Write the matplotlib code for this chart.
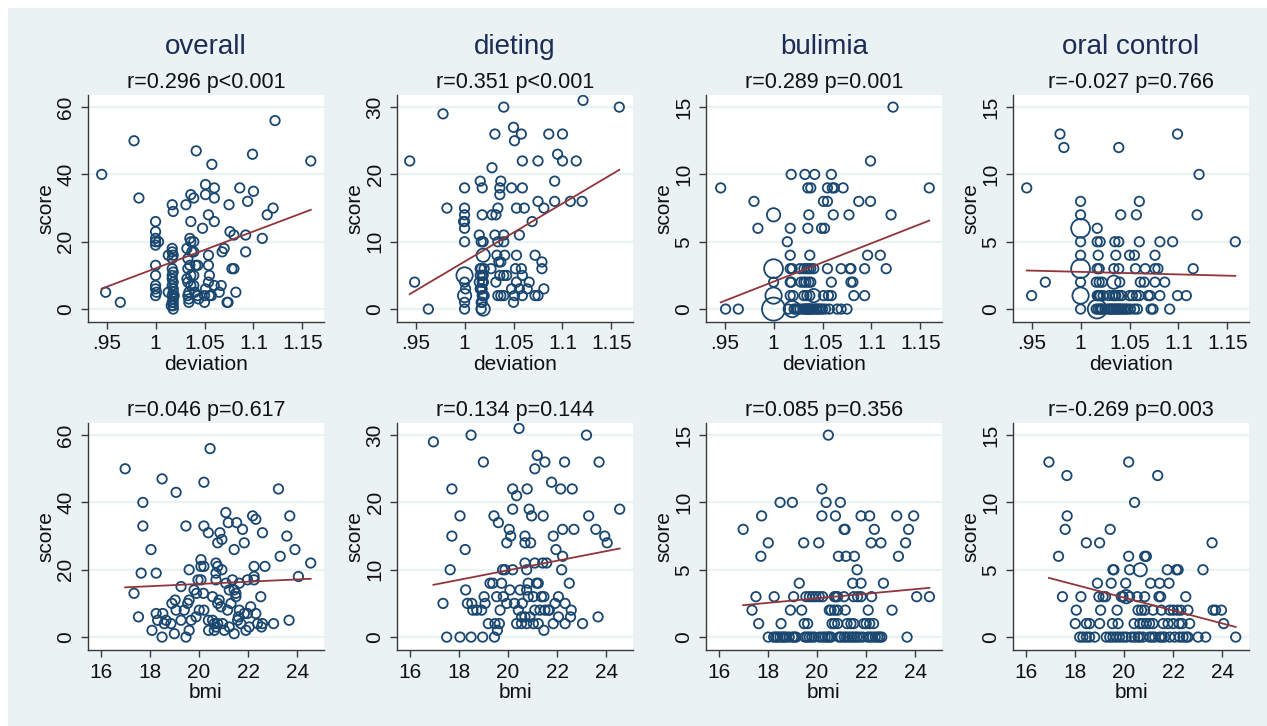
import matplotlib
matplotlib.use("Agg")
import numpy as np
import matplotlib.pyplot as plt
from matplotlib.patches import Rectangle

plt.rcParams['font.family'] = ['Liberation Sans', 'DejaVu Sans']

NAVY = '#1a476f'
MAROON = '#90353b'
BG = '#eaf2f3'

# ---------------- data: (x, y) points, weighted points as (x, y, w) ----------------
# overall score vs deviation
dev_overall = [
    (0.945, 40), (0.949, 5), (0.964, 2), (0.978, 50), (0.983, 33),
    (1.0, 26), (1.0, 23), (1.0, 21), (1.0, 20), (1.0, 19), (1.0, 13), (1.0, 10), (1.0, 7),
    (1.0, 6), (1.0, 4), (1.003, 20),
    (1.017, 31), (1.018, 29), (1.017, 18), (1.017, 17), (1.018, 16), (1.017, 15), (1.017, 12),
    (1.018, 11), (1.017, 10), (1.018, 8), (1.017, 7), (1.018, 6), (1.017, 4), (1.018, 3),
    (1.017, 2), (1.018, 1), (1.018, 0), (1.013, 16), (1.013, 5),
    (1.018, 2), (1.018, 5), (1.017, 9), (1.019, 4), (1.016, 1), (1.001, 5),
    (1.031, 31), (1.036, 34), (1.039, 33), (1.035, 21), (1.036, 20), (1.032, 18), (1.037, 17),
    (1.033, 15), (1.035, 13), (1.033, 12), (1.036, 10), (1.032, 9), (1.036, 7), (1.033, 4),
    (1.034, 3), (1.034, 2), (1.036, 26), (1.034, 5), (1.033, 8),
    (1.039, 20), (1.039, 17), (1.041, 13), (1.039, 10), (1.039, 7), (1.040, 5),
    (1.0415, 47), (1.043, 13), (1.043, 4), (1.044, 3), (1.048, 24),
    (1.051, 37), (1.051, 34), (1.051, 6), (1.050, 4), (1.050, 2),
    (1.054, 28), (1.054, 16), (1.054, 13), (1.055, 10), (1.054, 8), (1.055, 4),
    (1.0575, 43), (1.057, 4), (1.060, 36), (1.060, 33), (1.060, 26), (1.060, 7),
    (1.065, 5), (1.067, 7), (1.068, 17), (1.070, 18), (1.073, 2), (1.074, 2),
    (1.075, 31), (1.076, 23), (1.078, 12), (1.080, 12), (1.080, 22), (1.082, 5),
    (1.086, 36), (1.092, 22), (1.092, 17), (1.094, 32), (1.099, 46), (1.100, 35),
    (1.109, 21), (1.114, 28), (1.120, 30), (1.122, 56), (1.1585, 44),
]
dev_overall_big = []

# dieting score vs deviation
dev_dieting = [
    (0.944, 22), (0.949, 4), (0.963, 0), (0.978, 29), (0.982, 15),
    (1.0, 18), (1.0, 15), (1.0, 14), (0.999, 13), (1.0, 13), (1.0, 12), (1.0, 10), (1.0, 4), (1.0, 0),
    (1.0, 1), (1.001, 3),
    (1.016, 19), (1.018, 18), (1.018, 14), (1.015, 11), (1.017, 10), (1.019, 10), (1.017, 6),
    (1.016, 5), (1.015, 4), (1.019, 4), (1.018, 3), (1.018, 2), (1.017, 1),
    (1.017, 3), (1.019, 5), (1.018, 1), (1.016, 6), (1.020, 2), (1.019, 4),
    (1.017, 0), (1.018, 5), (1.016, 3), (1.019, 2), (1.020, 6), (1.018, 4),
    (1.028, 14), (1.028, 21), (1.027, 6),
    (1.031, 26), (1.032, 14), (1.034, 15), (1.031, 11), (1.034, 10), (1.033, 8), (1.035, 7),
    (1.037, 7), (1.032, 4), (1.036, 5), (1.034, 2), (1.037, 2), (1.036, 17), (1.036, 18), (1.037, 19),
    (1.040, 30), (1.040, 11), (1.040, 10), (1.041, 8), (1.040, 5), (1.040, 2), (1.043, 5),
    (1.048, 18), (1.048, 3), (1.050, 27), (1.051, 25), (1.050, 1), (1.051, 2), (1.052, 6),
    (1.053, 15), (1.053, 8), (1.053, 4), (1.056, 11), (1.056, 3), (1.058, 26), (1.058, 6),
    (1.059, 22), (1.059, 18), (1.059, 5), (1.059, 2), (1.061, 15), (1.066, 4), (1.064, 3),
    (1.069, 13), (1.072, 8), (1.072, 2), (1.075, 22), (1.075, 16), (1.075, 2),
    (1.079, 7), (1.079, 6), (1.081, 15), (1.081, 3), (1.086, 26), (1.092, 19), (1.092, 16),
    (1.095, 23), (1.100, 26), (1.100, 22), (1.108, 16), (1.114, 22), (1.120, 16),
    (1.121, 31), (1.158, 30),
]
dev_dieting_big = [(1.0, 5, 3), (1.0, 2, 2), (1.019, 8, 2), (1.019, 0, 2)]

# bulimia score vs deviation
dev_bulimia = [
    (0.946, 9), (0.951, 0), (0.964, 0), (0.980, 8), (0.984, 6), (1.0, 2),
    (1.018, 10), (1.017, 6), (1.014, 5), (1.017, 4), (1.017, 3), (1.019, 3), (1.017, 2),
    (1.017, 1), (1.015, 0), (1.020, 1), (1.018, 2),
    (1.032, 10), (1.035, 9), (1.038, 9), (1.036, 7), (1.035, 6), (1.037, 4),
    (1.027, 3), (1.031, 3), (1.034, 3), (1.036, 3), (1.038, 3), (1.041, 3),
    (1.028, 2), (1.031, 2), (1.033, 2), (1.036, 2), (1.038, 2), (1.034, 1), (1.031, 1), (1.037, 1),
    (1.025, 0), (1.030, 0), (1.033, 0), (1.036, 0), (1.039, 0), (1.043, 0), (1.046, 0), (1.050, 0),
    (1.021, 0), (1.023, 0), (1.027, 0), (1.032, 0), (1.035, 0), (1.038, 0), (1.041, 0),
    (1.044, 0), (1.048, 0), (1.053, 0), (1.057, 0), (1.034, 0), (1.037, 0),
    (1.042, 10), (1.049, 6), (1.052, 6), (1.051, 8), (1.055, 8), (1.055, 9), (1.059, 10),
    (1.060, 9), (1.062, 9), (1.061, 7), (1.055, 3), (1.059, 2), (1.051, 1), (1.056, 1),
    (1.059, 1), (1.065, 0), (1.069, 0), (1.075, 0), (1.071, 9), (1.069, 3), (1.077, 7),
    (1.078, 3), (1.079, 3), (1.079, 2), (1.081, 2), (1.082, 1), (1.087, 8), (1.093, 3),
    (1.093, 1), (1.096, 4), (1.099, 11), (1.099, 8), (1.109, 4), (1.115, 3), (1.120, 7),
    (1.122, 15), (1.159, 9),
]
dev_bulimia_big = [(1.0, 7, 2), (1.0, 3, 4), (1.0, 1, 3), (1.0, 0, 6), (1.019, 0, 3), (1.041, 1, 2)]

# oral control score vs deviation
dev_oral = [
    (0.945, 9), (0.950, 1), (0.964, 2), (0.979, 13), (0.983, 12),
    (1.0, 8), (1.0, 7), (1.0, 5), (1.0, 4), (1.0, 2), (1.0, 0),
    (1.017, 6), (1.017, 5), (1.020, 5), (1.018, 4), (1.017, 3), (1.019, 3), (1.016, 2),
    (1.019, 2), (1.022, 2), (1.017, 1), (1.020, 1), (1.023, 1), (1.022, 0), (1.025, 0),
    (1.018, 0), (1.020, 0), (1.019, 1), (1.021, 0), (1.016, 0), (1.018, 1),
    (1.039, 12), (1.041, 7), (1.035, 5), (1.039, 5), (1.036, 4), (1.034, 3), (1.039, 3),
    (1.040, 2), (1.029, 1), (1.033, 1), (1.036, 1), (1.039, 1), (1.042, 1),
    (1.028, 0), (1.031, 0), (1.034, 0), (1.037, 0), (1.040, 0), (1.044, 0), (1.048, 0),
    (1.030, 0), (1.033, 0), (1.036, 0), (1.039, 0), (1.042, 0), (1.046, 0), (1.035, 1),
    (1.050, 4), (1.055, 4), (1.056, 3), (1.057, 7), (1.060, 8), (1.060, 5), (1.061, 2),
    (1.065, 2), (1.050, 1), (1.053, 1), (1.057, 1), (1.060, 1), (1.051, 0), (1.055, 0),
    (1.058, 0), (1.066, 3), (1.069, 1), (1.071, 1), (1.072, 0), (1.074, 0), (1.076, 4),
    (1.076, 3), (1.079, 3), (1.076, 2), (1.081, 5), (1.081, 1), (1.086, 2), (1.091, 0),
    (1.094, 5), (1.099, 1), (1.099, 13), (1.108, 1), (1.115, 3), (1.119, 7), (1.121, 10),
    (1.158, 5),
]
dev_oral_big = [(1.0, 6, 4), (1.0, 3, 4), (1.0, 1, 3), (1.017, 0, 4), (1.034, 2, 2)]

# overall score vs bmi
bmi_overall = [
    (17.0, 50), (17.36, 13), (17.54, 6), (17.65, 19), (17.72, 40), (17.72, 33), (18.05, 26),
    (18.09, 2), (18.26, 19), (18.26, 7), (18.32, 5), (18.5, 47), (18.53, 7), (18.5, 0),
    (18.59, 4), (18.66, 5), (18.86, 4), (18.9, 10), (19.03, 11), (19.07, 8), (19.07, 43),
    (19.0, 1), (19.27, 15), (19.27, 5), (19.47, 33), (19.47, 0), (19.4, 8), (19.54, 10),
    (19.6, 11), (19.6, 20), (19.68, 5), (19.6, 2), (19.8, 14), (19.88, 6), (19.9, 13),
    (20.01, 8), (19.96, 17), (20.08, 23), (20.08, 21), (20.08, 17), (20.18, 13), (20.2, 21),
    (20.2, 8), (20.2, 46), (20.2, 33), (20.38, 31), (20.38, 5), (20.39, 2), (20.45, 56),
    (20.55, 12), (20.62, 2), (20.55, 5), (20.62, 4), (20.69, 22), (20.69, 19), (20.69, 17),
    (20.76, 28), (20.76, 21), (20.76, 10), (20.76, 4), (20.82, 11), (20.85, 31), (20.89, 9),
    (20.93, 20), (20.93, 29), (20.96, 4), (21.03, 2), (21.09, 37), (21.09, 16), (21.16, 8),
    (21.19, 34), (21.23, 3), (21.23, 14), (21.3, 10), (21.36, 17), (21.43, 14), (21.43, 26),
    (21.43, 1), (21.5, 13), (21.5, 12), (21.53, 34), (21.57, 5), (21.64, 16), (21.64, 8),
    (21.7, 4), (21.77, 32), (21.84, 28), (21.84, 7), (21.91, 2), (21.97, 7), (21.97, 17),
    (22.04, 3), (22.1, 9), (22.18, 36), (22.24, 17), (22.24, 18), (22.24, 21), (22.31, 35),
    (22.31, 7), (22.38, 4), (22.51, 12), (22.54, 3), (22.58, 4), (22.58, 31), (22.68, 21),
    (23.03, 4), (23.23, 44), (23.3, 24), (23.57, 30), (23.66, 5), (23.69, 36), (23.9, 26),
    (24.04, 18), (24.54, 22), (20.7, 3), (21.6, 6),
]
bmi_overall_big = []

# dieting score vs bmi
bmi_dieting = [
    (16.97, 29), (17.36, 5), (17.51, 0), (17.65, 10), (17.72, 15), (17.72, 22), (18.05, 18),
    (18.05, 0), (18.26, 13), (18.28, 7), (18.35, 5), (18.5, 30), (18.5, 0), (18.53, 5),
    (18.57, 4), (18.73, 4), (18.93, 4), (18.97, 0), (19.0, 26), (19.03, 6), (19.07, 5),
    (19.2, 2), (19.27, 8), (19.38, 8), (19.43, 18), (19.45, 0), (19.47, 2), (19.54, 6),
    (19.61, 17), (19.57, 1), (19.65, 2), (19.68, 4), (19.74, 8), (19.81, 6), (19.78, 10),
    (19.88, 10), (19.95, 14), (19.95, 5), (20.05, 16), (20.08, 7), (20.11, 15), (20.19, 19),
    (20.19, 10), (20.19, 22), (20.26, 5), (20.35, 21), (20.35, 2), (20.42, 4), (20.45, 31),
    (20.49, 7), (20.55, 3), (20.58, 5), (20.55, 2), (20.69, 11), (20.69, 15), (20.69, 14),
    (20.69, 3), (20.76, 2), (20.76, 10), (20.76, 7), (20.78, 22), (20.82, 8), (20.82, 6),
    (20.86, 19), (20.89, 3), (20.92, 14), (20.96, 18), (21.03, 6), (21.03, 2), (21.09, 11),
    (21.09, 4), (21.09, 25), (21.16, 8), (21.19, 27), (21.23, 8), (21.23, 2), (21.3, 4),
    (21.36, 6), (21.41, 11), (21.43, 18), (21.46, 6), (21.46, 1), (21.5, 26), (21.5, 4),
    (21.57, 11), (21.64, 4), (21.68, 4), (21.77, 23), (21.84, 2), (21.84, 15), (21.91, 5),
    (21.95, 13), (22.05, 6), (22.05, 3), (22.14, 22), (22.18, 10), (22.22, 16), (22.22, 12),
    (22.3, 26), (22.32, 5), (22.32, 2), (22.49, 8), (22.54, 3), (22.57, 4), (22.61, 22),
    (22.68, 16), (23.03, 2), (23.19, 30), (23.28, 18), (23.57, 16), (23.66, 3), (23.7, 26),
    (23.93, 15), (24.03, 14), (24.54, 19),
]
bmi_dieting_big = []

# bulimia score vs bmi
bmi_bulimia = [
    (17.0, 8), (17.36, 2), (17.52, 3), (17.63, 1), (17.72, 6), (17.75, 9), (18.02, 7),
    (18.02, 0), (18.26, 3), (18.24, 0), (18.4, 0), (18.6, 0), (18.74, 0), (18.87, 0),
    (19.01, 0), (19.15, 0), (18.5, 10), (18.54, 1), (18.92, 2), (19.0, 10), (19.05, 3),
    (19.28, 4), (19.38, 2), (19.46, 7), (19.48, 1), (19.55, 3), (19.62, 1),
    (19.51, 0), (19.69, 0), (19.89, 0), (19.69, 3), (19.82, 3), (19.96, 3), (20.09, 3),
    (20.23, 3), (20.07, 7), (20.2, 11), (20.2, 9), (20.37, 10), (20.46, 15),
    (20.23, 0), (20.43, 0), (20.57, 0), (20.5, 2), (20.57, 2), (20.71, 2), (20.84, 2),
    (20.61, 1), (20.71, 1), (20.84, 1), (20.71, 3), (20.77, 3), (20.84, 3), (20.75, 9),
    (20.87, 6), (20.95, 10), (20.98, 0), (21.11, 0), (21.32, 0), (21.1, 8), (21.14, 8),
    (21.1, 3), (21.15, 2), (21.18, 6), (21.22, 1), (21.38, 1), (21.49, 1), (21.52, 6),
    (21.45, 4), (21.63, 5), (21.49, 3), (21.65, 3), (21.79, 3), (21.79, 4),
    (21.52, 0), (21.73, 0), (21.86, 0), (22.06, 0), (21.79, 9), (21.9, 1), (22.08, 2),
    (22.14, 9), (22.22, 3), (22.2, 7), (22.33, 8), (22.0, 1), (22.14, 1), (22.3, 1),
    (22.26, 0), (22.47, 0), (22.63, 0), (22.6, 7), (22.7, 4), (23.05, 2), (23.24, 9),
    (23.31, 6), (23.6, 7), (23.66, 0), (23.72, 8), (23.93, 9), (24.05, 3), (24.57, 3),
    (18.32, 0), (18.5, 0), (18.67, 0), (19.08, 0), (19.6, 0), (19.79, 0), (20.1, 0),
    (20.33, 0), (20.5, 0), (20.9, 0), (21.2, 0), (21.42, 0), (21.62, 0), (22.16, 0),
    (22.37, 0), (22.55, 0),
]
bmi_bulimia_big = []

# oral control score vs bmi
bmi_oral = [
    (16.95, 13), (17.34, 6), (17.5, 3), (17.61, 8), (17.68, 12), (17.69, 9), (18.02, 1),
    (18.06, 2), (18.25, 3), (18.2, 0), (18.33, 0), (18.47, 0), (18.6, 0), (18.81, 0),
    (18.47, 7), (18.47, 1), (18.6, 1), (18.92, 4), (19.01, 7), (19.01, 1), (19.05, 2),
    (18.98, 3), (19.15, 3), (19.25, 3), (19.28, 0), (19.42, 0), (19.55, 0), (19.69, 0),
    (19.82, 0), (19.96, 0), (20.09, 0), (19.44, 8), (19.48, 4), (19.55, 5), (19.59, 5),
    (19.53, 1), (19.76, 1), (19.72, 2), (19.89, 3), (19.96, 3), (20.07, 4), (20.19, 13),
    (20.19, 6), (20.23, 5), (20.23, 3), (20.43, 10), (20.41, 1), (20.3, 0), (20.43, 0),
    (20.57, 0), (20.77, 0), (20.54, 3), (20.57, 2), (20.71, 2), (20.84, 2), (20.64, 1),
    (20.77, 1), (20.91, 1), (21.04, 1), (21.18, 1), (20.84, 6), (20.91, 6), (20.84, 3),
    (21.04, 0), (21.25, 0), (21.45, 0), (21.65, 0), (21.86, 0), (21.08, 4), (21.18, 2),
    (21.37, 12), (21.42, 3), (21.49, 3), (21.45, 4), (21.52, 2), (21.59, 1), (21.79, 1),
    (22.0, 1), (21.76, 5), (21.83, 4), (21.86, 2), (22.0, 2), (22.13, 5), (22.2, 5),
    (22.17, 2), (22.31, 2), (22.24, 1), (22.36, 1), (22.06, 0), (22.26, 0), (22.53, 0),
    (22.6, 0), (22.51, 3), (22.6, 2), (22.67, 1), (23.01, 0), (23.32, 0), (23.21, 5),
    (23.58, 7), (23.62, 2), (23.72, 2), (23.96, 2), (24.05, 1), (24.54, 0),
    (20.64, 0), (21.15, 0), (21.55, 0), (22.4, 0),
]
bmi_oral_big = [(20.66, 5, 2), (20.09, 3, 2)]

col_titles = ['overall', 'dieting', 'bulimia', 'oral control']
dev_stats = ['r=0.296 p<0.001', 'r=0.351 p<0.001', 'r=0.289 p=0.001', 'r=-0.027 p=0.766']
bmi_stats = ['r=0.046 p=0.617', 'r=0.134 p=0.144', 'r=0.085 p=0.356', 'r=-0.269 p=0.003']
y_max = [60, 30, 15, 15]
y_ticks = [[0, 20, 40, 60], [0, 10, 20, 30], [0, 5, 10, 15], [0, 5, 10, 15]]
dev_ticks = [0.95, 1.0, 1.05, 1.1, 1.15]
dev_ticklabels = ['.95', '1', '1.05', '1.1', '1.15']
bmi_ticks = [16, 18, 20, 22, 24]

dev_sets = [(dev_overall, dev_overall_big), (dev_dieting, dev_dieting_big),
            (dev_bulimia, dev_bulimia_big), (dev_oral, dev_oral_big)]
bmi_sets = [(bmi_overall, bmi_overall_big), (bmi_dieting, bmi_dieting_big),
            (bmi_bulimia, bmi_bulimia_big), (bmi_oral, bmi_oral_big)]

# ---------------- figure ----------------
W, H = 1267, 726
fig = plt.figure(figsize=(W / 100, H / 100), dpi=100)
fig.patch.set_facecolor('white')
fig.patches.append(Rectangle((8 / W, 0), 1, (H - 8) / H, transform=fig.transFigure,
                             facecolor=BG, edgecolor='none', zorder=-10))

col_left = [88, 397, 706, 1013]
ax_w = 236
row_top = [95, 423]
ax_h = 227
FS = 15


def draw_panel(ax, pts, big, xlim, xticks, xticklabels, ymax, yticks, xlabel, stat):
    x = np.array([p[0] for p in pts] + [b[0] for b in big], dtype=float)
    y = np.array([p[1] for p in pts] + [b[1] for b in big], dtype=float)
    w = np.array([1] * len(pts) + [b[2] for b in big])
    ax.set_facecolor('white')
    for t in yticks:
        ax.axhline(t, color=BG, lw=1.6, zorder=1)
    ax.scatter(x, y, s=46 * w, facecolors='none', edgecolors=NAVY, linewidths=1.3, zorder=3)
    # linear fit (frequency weighted)
    slope, icpt = np.polyfit(np.repeat(x, w), np.repeat(y, w), 1)
    xx = np.array([x.min(), x.max()])
    ax.plot(xx, icpt + slope * xx, color=MAROON, lw=1.3, zorder=4)

    ax.set_xlim(*xlim)
    ax.set_ylim(-0.064 * ymax, 1.06 * ymax)
    ax.set_xticks(xticks)
    ax.set_xticklabels(xticklabels)
    ax.set_yticks(yticks)
    ax.set_yticklabels([str(t) for t in yticks], rotation=90, va='center')
    for s in ['top', 'right']:
        ax.spines[s].set_visible(False)
    for s in ['left', 'bottom']:
        ax.spines[s].set_color('#3a3a3a')
        ax.spines[s].set_linewidth(1.0)
    ax.tick_params(axis='both', length=5, width=1.0, color='#3a3a3a', labelsize=FS,
                   labelcolor='#111111', pad=4)
    ax.set_xlabel(xlabel, fontsize=FS, color='#111111', labelpad=1)
    ax.set_ylabel('score', fontsize=FS, color='#111111', labelpad=1)
    ax.set_title(stat, fontsize=15.5, color='#111111', pad=5)


for c in range(4):
    for r in range(2):
        left = col_left[c] / W
        bottom = 1 - (row_top[r] + ax_h) / H
        ax = fig.add_axes([left, bottom, ax_w / W, ax_h / H])
        if r == 0:
            pts, big = dev_sets[c]
            draw_panel(ax, pts, big, (0.931, 1.172), dev_ticks, dev_ticklabels,
                       y_max[c], y_ticks[c], 'deviation', dev_stats[c])
        else:
            pts, big = bmi_sets[c]
            draw_panel(ax, pts, big, (15.49, 25.08), bmi_ticks, [str(t) for t in bmi_ticks],
                       y_max[c], y_ticks[c], 'bmi', bmi_stats[c])
    fig.text((col_left[c] + ax_w / 2) / W, 1 - 47 / H, col_titles[c], ha='center', va='center',
             fontsize=20, color='#1c2c54')

fig.savefig('out.png', dpi=100)
